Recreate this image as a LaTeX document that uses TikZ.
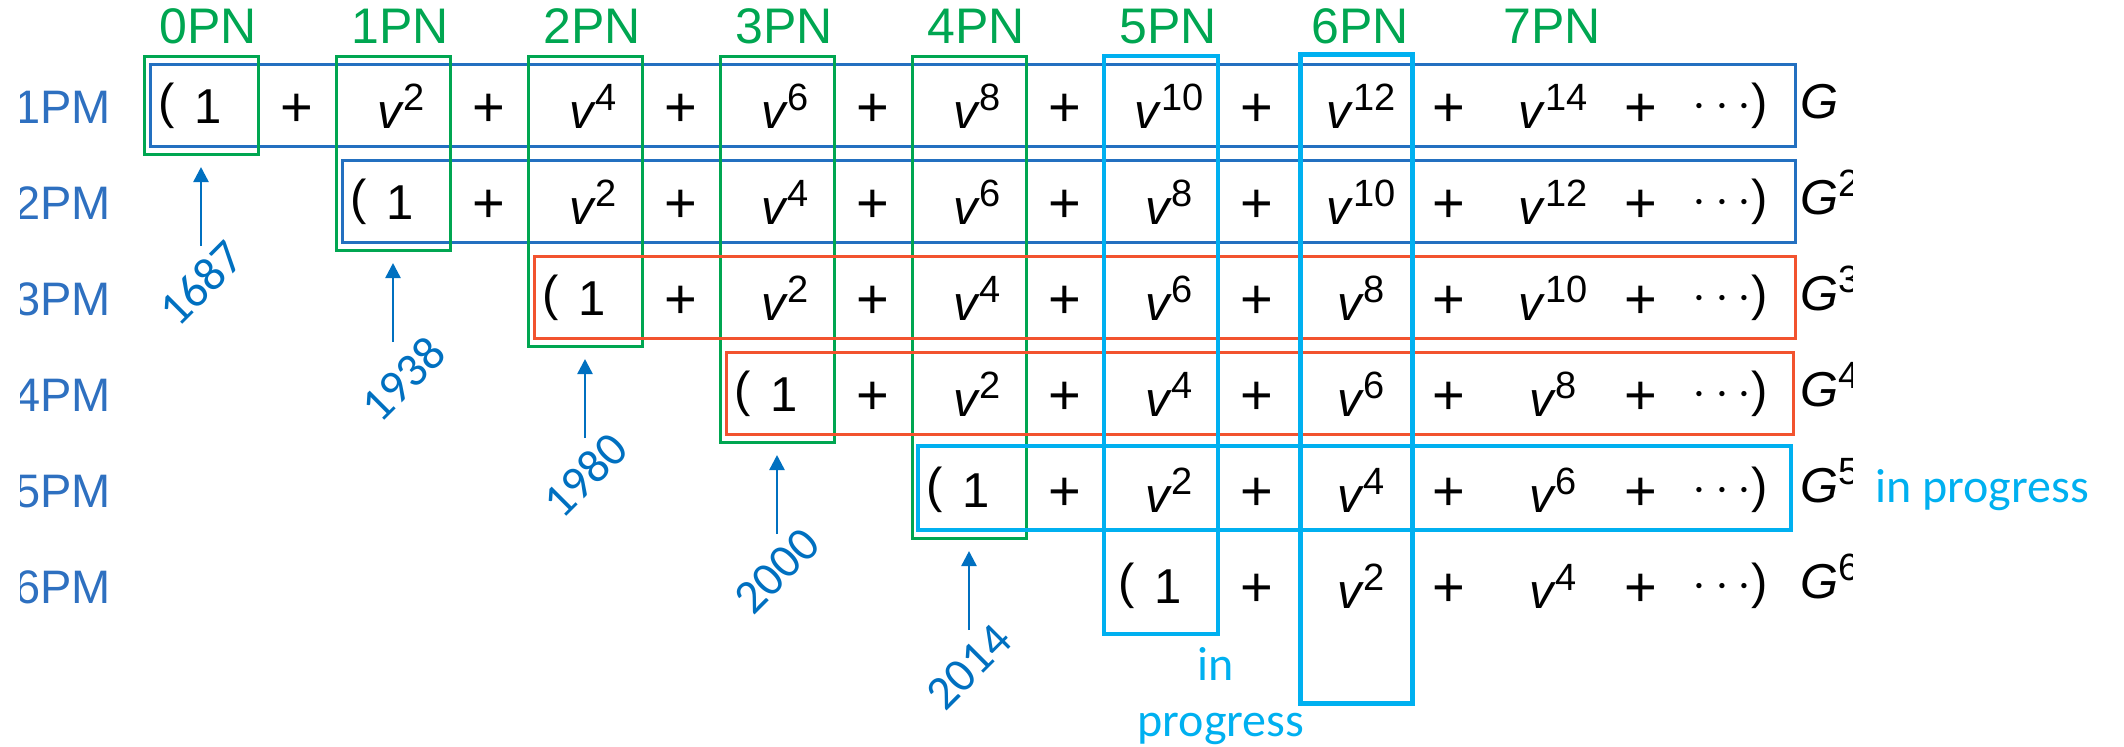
\documentclass[tikz,border=0pt]{standalone}
\usepackage{fontspec}
\setmainfont{Liberation Sans}
\newfontfamily\calfont{Carlito}
\usetikzlibrary{arrows.meta,fit}
\definecolor{lblblue}{HTML}{2E70C0}
\definecolor{boxblue}{HTML}{2370C0}
\definecolor{pngreen}{HTML}{00A651}
\definecolor{boxred}{HTML}{F2532F}
\definecolor{cyanc}{HTML}{00B0F0}
\definecolor{yearblue}{HTML}{0070C0}
\newcommand\mkbox[6]{%
  \path (#3,#4) coordinate (#1-a) (#5,#6) coordinate (#1-b);
  \node[#2, fit=(#1-a)(#1-b), inner sep=0pt, outer sep=0pt] (#1) {};}
\begin{document}
\begin{tikzpicture}[x=0.5pt,y=-0.5pt,
  txt/.style={inner sep=0pt,outer sep=0pt,font=\fontsize{24.5}{29}\selectfont},
  plustxt/.style={inner sep=0pt,outer sep=0pt,font=\fontsize{28}{32}\selectfont},
  bluebox/.style={draw=boxblue,line width=1.5pt},
  greenbox/.style={draw=pngreen,line width=1.5pt},
  redbox/.style={draw=boxred,line width=1.5pt},
  cyanbox/.style={draw=cyanc,line width=1.75pt},
  cyanthick/.style={draw=cyanc,line width=2.5pt},
  pnlab/.style={inner sep=0pt,text=pngreen,font=\fontsize{25}{30}\selectfont,anchor=base},
  pmlab/.style={inner sep=0pt,text=lblblue,font=\fontsize{23.5}{28}\selectfont,anchor=base east},
  yearlab/.style={inner sep=0pt,text=yearblue,font=\calfont\fontsize{24}{28}\selectfont,rotate=45},
  proglab/.style={inner sep=0pt,text=cyanc,font=\calfont\fontsize{24}{28}\selectfont},
  yeararrow/.style={draw=yearblue,line width=1.25pt,-{Triangle[width=7.5pt,length=7.5pt]}}
]
\useasboundingbox (0,0) rectangle (2124,746);

% row boxes (blue) and column boxes (green)
\mkbox{row1}{bluebox}{150}{64}{1795}{146}
\mkbox{row2}{bluebox}{342}{160}{1795}{242}
\foreach \k in {0,...,4}{
  \pgfmathsetmacro\cx{201+192*\k}
  \pgfmathsetmacro\bt{154+96*\k}
  \mkbox{pn\k}{greenbox}{\cx-57}{56}{\cx+57}{\bt}
}
\mkbox{row3}{redbox}{534}{256}{1795}{338}
\mkbox{row4}{redbox}{726}{352}{1793}{434}
\mkbox{pn5}{cyanbox}{1104}{56}{1218}{634}
\mkbox{row5}{cyanbox,line width=2pt}{918}{446}{1791}{530}
\mkbox{pn6}{cyanthick}{1300}{54}{1412}{703}

% series terms
\foreach \r in {1,...,6}{
  \pgfmathsetmacro\rc{106+96*(\r-1)}
  \pgfmathsetmacro\cs{201+192*(\r-1)}
  \node[txt,anchor=base west] (open\r) at (\cs-43,\rc+12) {(};
  \node[txt,anchor=base west] (one\r) at (\cs-7,\rc+17) {1};
  \foreach \k in {\r,...,7}{
    \pgfmathtruncatemacro\ex{2*(\k-\r+1)}
    \pgfmathsetmacro\cx{201+192*\k}
    \node[txt,anchor=base] (v\r-\k) at (\cx+8,\rc+22) {\textit{v}\raisebox{9pt}{\fontsize{19}{19}\selectfont\ex}};
  }
  \foreach \k in {\r,...,8}{
    \pgfmathsetmacro\px{201+192*\k-96}
    \node[plustxt,anchor=base] (plus\r-\k) at (\px,\rc+20) {+};
  }
  \node[txt,anchor=base] (dots\r) at (1722,\rc+12) {$\cdots$};
  \node[txt,anchor=base east] (close\r) at (1768,\rc+12) {)};
}

% G powers
\begin{scope}
\clip (1780,0) rectangle (1852,746);
\foreach \r in {1,...,6}{
  \pgfmathsetmacro\rc{106+96*(\r-1)}
  \node[txt,anchor=base west] (g\r) at (1800,\rc+12) {\textit{G}\ifnum\r>1 \raisebox{9pt}{\fontsize{19}{19}\selectfont\r}\fi};
}
\end{scope}

% row labels
\begin{scope}
\clip (20,0) rectangle (140,746);
\foreach \r in {1,...,6}{
  \pgfmathsetmacro\rc{106+96*(\r-1)}
  \node[pmlab] (pm\r) at (111.5,\rc+17.5) {\r PM};
}
\end{scope}

% column labels
\foreach \k in {0,...,7}{
  \node[pnlab] (pnl\k) at (201+192*\k+7,43) {\k PN};
}

% years and arrows
\foreach \k/\yr/\dx in {0/1687/0,1/1938/10,2/1980/0,3/2000/0,4/2014/0}{
  \pgfmathsetmacro\cx{201+192*\k}
  \pgfmathsetmacro\bt{154+96*\k}
  \coordinate (tail\k) at (\cx,\bt+92);
  \draw[yeararrow] (tail\k) -- ([yshift=-6.5pt]pn\k.south);
  \node[yearlab] (yr\k) at (\cx+\dx,\bt+129) {\yr};
}

% in progress notes
\node[proglab,anchor=base west] (prog5) at (1875,502) {in progress};
\node[proglab,anchor=base] (progin) at (1216,680) {in};
\node[proglab,anchor=base] (progword) at (1221,736) {progress};
\end{tikzpicture}
\end{document}
